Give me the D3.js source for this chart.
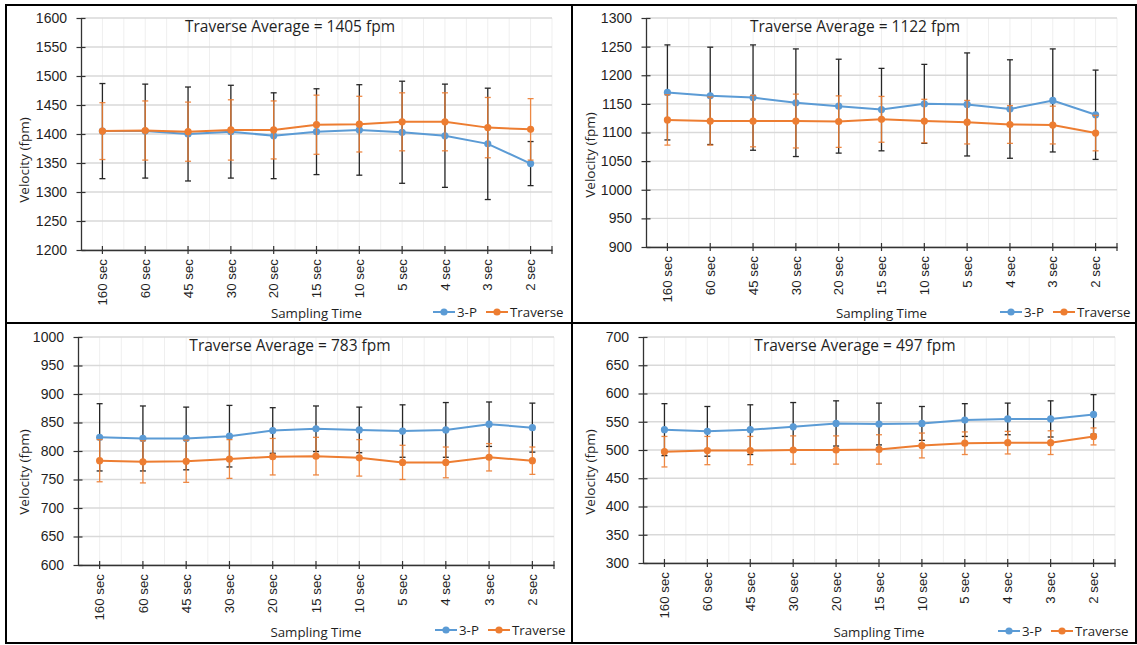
<!DOCTYPE html>
<html>
<head>
<meta charset="utf-8">
<script src="https://cdn.jsdelivr.net/npm/d3@7"></script>
<style>
  body { margin: 0; background: #fff; }
  svg { display: block; font-family: "Open Sans", "DejaVu Sans", sans-serif; }
</style>
</head>
<body>
<svg width="1137" height="645"></svg>
<script>
"use strict"
const categories = ["160 sec", "60 sec", "45 sec", "30 sec", "20 sec", "15 sec", "10 sec", "5 sec", "4 sec", "3 sec", "2 sec"];
const seriesNames = ["3-P", "Traverse"];
const titles = ["Traverse Average = 1405 fpm", "Traverse Average = 1122 fpm", "Traverse Average = 783 fpm", "Traverse Average = 497 fpm"];

// assi Y
const yTicks1 = [1200, 1250, 1300, 1350, 1400, 1450, 1500, 1550, 1600];
const yTicks2 = [900, 950, 1000, 1050, 1100, 1150, 1200, 1250, 1300];
const yTicks3 = [600, 650, 700, 750, 800, 850, 900, 950, 1000];
const yTicks4 = [300, 350, 400, 450, 500, 550, 600, 650, 700];

// pannello 1
const threeP1 = [1405, 1405, 1400, 1404, 1397, 1404, 1407, 1403, 1397, 1383, 1349];
const threeP1Err = [82, 81, 81, 80, 74, 74, 78, 88, 89, 96, 38];
const trav1 = [1405, 1406, 1404, 1407, 1407, 1416, 1417, 1421, 1421, 1411, 1408];
const trav1Err = [49, 51, 51, 52, 50, 51, 48, 50, 50, 52, 53];

// pannello 2
const threeP2 = [1170, 1164, 1161, 1152, 1146, 1140, 1150, 1149, 1141, 1156, 1131];
const threeP2Err = [83, 85, 92, 94, 82, 72, 69, 90, 86, 90, 78];
const trav2 = [1122, 1120, 1120, 1120, 1119, 1123, 1120, 1118, 1114, 1113, 1099];
const trav2Err = [44, 42, 45, 47, 45, 40, 38, 38, 33, 33, 31];

// pannello 3
const threeP3 = [824, 822, 822, 826, 836, 839, 837, 835, 837, 847, 841];
const threeP3Err = [59, 57, 55, 54, 40, 40, 40, 46, 48, 39, 43];
const trav3 = [783, 781, 782, 786, 790, 791, 788, 780, 780, 789, 783];
const trav3Err = [37, 37, 37, 34, 32, 33, 32, 30, 27, 24, 24];

// pannello 4
const threeP4 = [536, 533, 536, 541, 547, 546, 547, 553, 555, 555, 563];
const threeP4Err = [46, 44, 44, 43, 40, 37, 30, 29, 28, 32, 35];
const trav4 = [497, 499, 499, 500, 500, 501, 508, 512, 513, 513, 524];
const trav4Err = [27, 25, 25, 25, 25, 26, 22, 20, 20, 21, 15];

const blu = "#5B9BD5";
const arancio = "#ED7D31";
const testo = "#1f1f1f";

const pannelli = [
    { title: titles[0], ticks: yTicks1, a: threeP1, aErr: threeP1Err, b: trav1, bErr: trav1Err,
      x0: 81, x1: 552, y0: 18, y1: 250, tx: 290, ty: 27, xt: 313, yx: 24, yy: 160, lx: 433, ly: 312 },
    { title: titles[1], ticks: yTicks2, a: threeP2, aErr: threeP2Err, b: trav2, bErr: trav2Err,
      x0: 646, x1: 1117, y0: 18, y1: 247, tx: 855, ty: 27, xt: 313, yx: 590, yy: 155, lx: 1000, ly: 312 },
    { title: titles[2], ticks: yTicks3, a: threeP3, aErr: threeP3Err, b: trav3, bErr: trav3Err,
      x0: 78, x1: 554, y0: 337, y1: 565, tx: 290, ty: 346, xt: 632, yx: 24, yy: 472, lx: 435, ly: 630 },
    { title: titles[3], ticks: yTicks4, a: threeP4, aErr: threeP4Err, b: trav4, bErr: trav4Err,
      x0: 643, x1: 1115, y0: 337, y1: 563, tx: 855, ty: 346, xt: 632, yx: 590, yy: 472, lx: 998, ly: 631 }
];

const svg = d3.select("svg");
svg.append("rect").attr("width", 1137).attr("height", 645).attr("fill", "#fff");

function disegna(p) {
    const g = svg.append("g");
    const scalaX = d3.scaleBand().domain(categories).range([p.x0, p.x1]);
    const bw = scalaX.bandwidth();
    const cx = function (c) { return scalaX(c) + bw / 2 };
    const scalaY = d3.scaleLinear().domain(d3.extent(p.ticks)).range([p.y1, p.y0]);

    // griglia verticale (categorie e meta)
    const vert = [];
    categories.forEach(function (c) { vert.push(cx(c)); vert.push(scalaX(c) + bw); });
    g.selectAll(".vg").data(vert).enter().append("line")
        .attr("x1", function (d) { return d }).attr("x2", function (d) { return d })
        .attr("y1", p.y0).attr("y2", p.y1)
        .attr("stroke", "#efefef").attr("stroke-width", 1);

    // griglia orizzontale
    g.selectAll(".hg").data(p.ticks).enter().append("line")
        .attr("x1", p.x0).attr("x2", p.x1)
        .attr("y1", function (d) { return scalaY(d) }).attr("y2", function (d) { return scalaY(d) })
        .attr("stroke", "#d9d9d9").attr("stroke-width", 1.3);

    // asse Y
    const asseY = d3.axisLeft(scalaY).tickValues(p.ticks).tickFormat(d3.format("d"))
        .tickSize(4.5).tickPadding(9.5).tickSizeOuter(0);
    const gy = g.append("g").attr("transform", `translate(${p.x0},0)`).call(asseY);
    gy.selectAll(".tick line").attr("x1", 4.5).attr("stroke", "#333").attr("stroke-width", 1.2);
    gy.select(".domain").attr("stroke", "#333").attr("stroke-width", 1.3);
    gy.selectAll("text").attr("font-size", "14px").attr("fill", testo).attr("font-family", null);

    // asse X
    const asseX = d3.axisBottom(scalaX).tickSize(4).tickSizeOuter(0);
    const gx = g.append("g").attr("transform", `translate(0,${p.y1})`).call(asseX);
    gx.selectAll(".tick line").attr("y1", -4).attr("stroke", "#333").attr("stroke-width", 1.2);
    gx.select(".domain").attr("stroke", "#333").attr("stroke-width", 1.3);
    gx.selectAll("text")
        .attr("transform", "rotate(-90)")
        .attr("x", -9).attr("y", 0).attr("dy", "0.35em")
        .attr("text-anchor", "end")
        .attr("font-size", "13.3px").attr("fill", testo).attr("font-family", null);
    gx.append("line").attr("x1", p.x1).attr("x2", p.x1)
        .attr("y1", -4).attr("y2", 4).attr("stroke", "#333").attr("stroke-width", 1.2);

    // serie: barre di errore, linea, marcatori
    const serie = [
        { v: p.a, e: p.aErr, col: blu, errCol: "#111" },
        { v: p.b, e: p.bErr, col: arancio, errCol: arancio }
    ];
    const linea = d3.line()
        .x(function (d, i) { return cx(categories[i]) })
        .y(function (d) { return scalaY(d) });

    serie.forEach(function (s) {
        const err = g.append("g").attr("stroke", s.errCol).attr("stroke-width", 1.3).attr("opacity", 0.9);
        s.v.forEach(function (v, i) {
            const x = cx(categories[i]);
            const alto = scalaY(v + s.e[i]);
            const basso = scalaY(v - s.e[i]);
            err.append("line").attr("x1", x).attr("x2", x).attr("y1", alto).attr("y2", basso);
            err.append("line").attr("x1", x - 3).attr("x2", x + 3).attr("y1", alto).attr("y2", alto);
            err.append("line").attr("x1", x - 3).attr("x2", x + 3).attr("y1", basso).attr("y2", basso);
        });
        g.append("path").datum(s.v)
            .attr("d", linea)
            .attr("fill", "none").attr("stroke", s.col).attr("stroke-width", 2);
        g.selectAll(null).data(s.v).enter().append("circle")
            .attr("cx", function (d, i) { return cx(categories[i]) })
            .attr("cy", function (d) { return scalaY(d) })
            .attr("r", 3.6).attr("fill", s.col);
    });

    // titoli
    g.append("text").attr("x", p.tx).attr("y", p.ty).attr("dy", "0.35em")
        .attr("text-anchor", "middle").attr("font-size", "15.5px").attr("fill", testo)
        .text(p.title);
    g.append("text").attr("x", (p.x0 + p.x1) / 2).attr("y", p.xt).attr("dy", "0.35em")
        .attr("text-anchor", "middle").attr("font-size", "13.3px").attr("fill", testo)
        .text("Sampling Time");
    g.append("text").attr("transform", `translate(${p.yx},${p.yy}) rotate(-90)`)
        .attr("dy", "0.35em").attr("text-anchor", "middle").attr("font-size", "13.5px").attr("fill", testo)
        .text("Velocity (fpm)");

    // legenda
    const leg = g.append("g").attr("transform", `translate(${p.lx},${p.ly})`);
    [blu, arancio].forEach(function (col, i) {
        const ox = i * 53;
        leg.append("line").attr("x1", ox).attr("x2", ox + 22).attr("y1", 0).attr("y2", 0)
            .attr("stroke", col).attr("stroke-width", 2);
        leg.append("circle").attr("cx", ox + 11).attr("cy", 0).attr("r", 3.6).attr("fill", col);
        leg.append("text").attr("x", ox + 24).attr("y", 0).attr("dy", "0.35em")
            .attr("font-size", "13.3px").attr("fill", testo).text(seriesNames[i]);
    });
}

pannelli.forEach(disegna);

// bordi della tabella
const bordiV = [6, 572, 1136];
const bordiH = [5, 323, 643];
svg.selectAll(".bv").data(bordiV).enter().append("line")
    .attr("x1", function (d) { return d }).attr("x2", function (d) { return d })
    .attr("y1", 4).attr("y2", 644).attr("stroke", "#000").attr("stroke-width", 2);
svg.selectAll(".bh").data(bordiH).enter().append("line")
    .attr("x1", 5).attr("x2", 1137)
    .attr("y1", function (d) { return d }).attr("y2", function (d) { return d })
    .attr("stroke", "#000").attr("stroke-width", 2);
</script>
</body>
</html>
